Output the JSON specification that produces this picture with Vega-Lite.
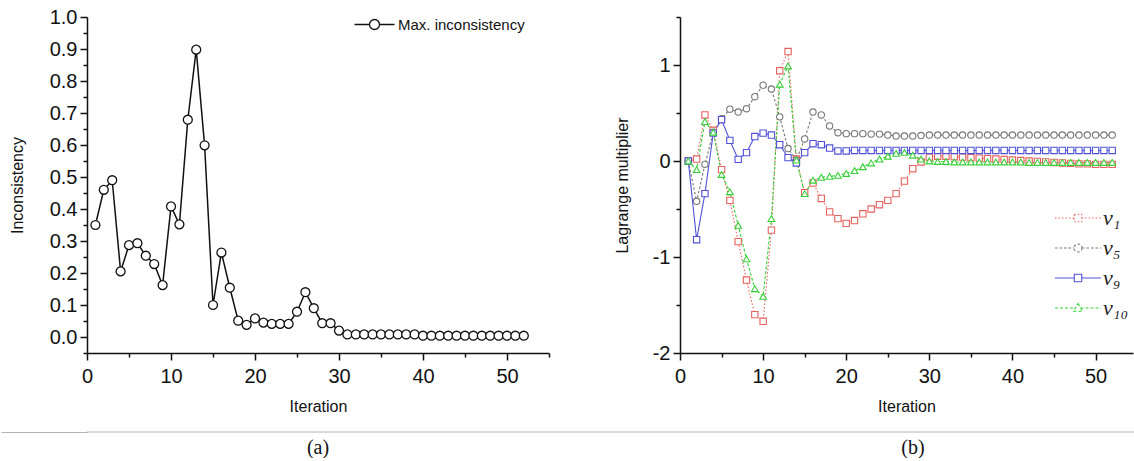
{
  "$schema": "https://vega.github.io/schema/vega-lite/v6.json",
  "background": "white",
  "padding": {"left": 0, "top": 7, "right": 0, "bottom": 0},
  "config": {
    "view": {"stroke": null},
    "font": "Liberation Sans",
    "axis": {"domainColor": "#111111", "domainWidth": 1.5, "tickColor": "#111111", "tickWidth": 1.5, "tickSize": 7, "labelColor": "#111111", "labelFont": "Liberation Sans", "labelFontSize": 20, "titleFont": "Liberation Sans", "titleFontSize": 16, "titleFontWeight": "normal", "titleColor": "#111111", "grid": false, "labelPadding": 3, "labelFlush": false, "labelOverlap": false}
  },
  "resolve": {"scale": {"color": "independent", "strokeDash": "independent"}, "legend": {"color": "independent", "strokeDash": "independent"}},
  "datasets": {
    "a": [
      {"iter": 1, "value": 0.35, "series": "Max. inconsistency"},
      {"iter": 2, "value": 0.46, "series": "Max. inconsistency"},
      {"iter": 3, "value": 0.49, "series": "Max. inconsistency"},
      {"iter": 4, "value": 0.205, "series": "Max. inconsistency"},
      {"iter": 5, "value": 0.287, "series": "Max. inconsistency"},
      {"iter": 6, "value": 0.293, "series": "Max. inconsistency"},
      {"iter": 7, "value": 0.254, "series": "Max. inconsistency"},
      {"iter": 8, "value": 0.228, "series": "Max. inconsistency"},
      {"iter": 9, "value": 0.162, "series": "Max. inconsistency"},
      {"iter": 10, "value": 0.408, "series": "Max. inconsistency"},
      {"iter": 11, "value": 0.352, "series": "Max. inconsistency"},
      {"iter": 12, "value": 0.679, "series": "Max. inconsistency"},
      {"iter": 13, "value": 0.898, "series": "Max. inconsistency"},
      {"iter": 14, "value": 0.599, "series": "Max. inconsistency"},
      {"iter": 15, "value": 0.1, "series": "Max. inconsistency"},
      {"iter": 16, "value": 0.264, "series": "Max. inconsistency"},
      {"iter": 17, "value": 0.154, "series": "Max. inconsistency"},
      {"iter": 18, "value": 0.051, "series": "Max. inconsistency"},
      {"iter": 19, "value": 0.038, "series": "Max. inconsistency"},
      {"iter": 20, "value": 0.058, "series": "Max. inconsistency"},
      {"iter": 21, "value": 0.045, "series": "Max. inconsistency"},
      {"iter": 22, "value": 0.041, "series": "Max. inconsistency"},
      {"iter": 23, "value": 0.041, "series": "Max. inconsistency"},
      {"iter": 24, "value": 0.041, "series": "Max. inconsistency"},
      {"iter": 25, "value": 0.079, "series": "Max. inconsistency"},
      {"iter": 26, "value": 0.14, "series": "Max. inconsistency"},
      {"iter": 27, "value": 0.09, "series": "Max. inconsistency"},
      {"iter": 28, "value": 0.043, "series": "Max. inconsistency"},
      {"iter": 29, "value": 0.043, "series": "Max. inconsistency"},
      {"iter": 30, "value": 0.02, "series": "Max. inconsistency"},
      {"iter": 31, "value": 0.008, "series": "Max. inconsistency"},
      {"iter": 32, "value": 0.008, "series": "Max. inconsistency"},
      {"iter": 33, "value": 0.008, "series": "Max. inconsistency"},
      {"iter": 34, "value": 0.008, "series": "Max. inconsistency"},
      {"iter": 35, "value": 0.008, "series": "Max. inconsistency"},
      {"iter": 36, "value": 0.008, "series": "Max. inconsistency"},
      {"iter": 37, "value": 0.008, "series": "Max. inconsistency"},
      {"iter": 38, "value": 0.008, "series": "Max. inconsistency"},
      {"iter": 39, "value": 0.008, "series": "Max. inconsistency"},
      {"iter": 40, "value": 0.004, "series": "Max. inconsistency"},
      {"iter": 41, "value": 0.004, "series": "Max. inconsistency"},
      {"iter": 42, "value": 0.004, "series": "Max. inconsistency"},
      {"iter": 43, "value": 0.004, "series": "Max. inconsistency"},
      {"iter": 44, "value": 0.004, "series": "Max. inconsistency"},
      {"iter": 45, "value": 0.004, "series": "Max. inconsistency"},
      {"iter": 46, "value": 0.004, "series": "Max. inconsistency"},
      {"iter": 47, "value": 0.004, "series": "Max. inconsistency"},
      {"iter": 48, "value": 0.004, "series": "Max. inconsistency"},
      {"iter": 49, "value": 0.004, "series": "Max. inconsistency"},
      {"iter": 50, "value": 0.004, "series": "Max. inconsistency"},
      {"iter": 51, "value": 0.004, "series": "Max. inconsistency"},
      {"iter": 52, "value": 0.004, "series": "Max. inconsistency"}
    ],
    "b": [
      {"iter": 1, "series": "v1", "value": 0},
      {"iter": 2, "series": "v1", "value": 0.02},
      {"iter": 3, "series": "v1", "value": 0.48},
      {"iter": 4, "series": "v1", "value": 0.32},
      {"iter": 5, "series": "v1", "value": -0.09},
      {"iter": 6, "series": "v1", "value": -0.41},
      {"iter": 7, "series": "v1", "value": -0.84},
      {"iter": 8, "series": "v1", "value": -1.24},
      {"iter": 9, "series": "v1", "value": -1.6},
      {"iter": 10, "series": "v1", "value": -1.67},
      {"iter": 11, "series": "v1", "value": -0.72},
      {"iter": 12, "series": "v1", "value": 0.94},
      {"iter": 13, "series": "v1", "value": 1.14},
      {"iter": 14, "series": "v1", "value": 0.02},
      {"iter": 15, "series": "v1", "value": -0.33},
      {"iter": 16, "series": "v1", "value": -0.23},
      {"iter": 17, "series": "v1", "value": -0.39},
      {"iter": 18, "series": "v1", "value": -0.53},
      {"iter": 19, "series": "v1", "value": -0.6},
      {"iter": 20, "series": "v1", "value": -0.65},
      {"iter": 21, "series": "v1", "value": -0.62},
      {"iter": 22, "series": "v1", "value": -0.55},
      {"iter": 23, "series": "v1", "value": -0.5},
      {"iter": 24, "series": "v1", "value": -0.455},
      {"iter": 25, "series": "v1", "value": -0.41},
      {"iter": 26, "series": "v1", "value": -0.34},
      {"iter": 27, "series": "v1", "value": -0.21},
      {"iter": 28, "series": "v1", "value": -0.08},
      {"iter": 29, "series": "v1", "value": -0.01},
      {"iter": 30, "series": "v1", "value": 0.04},
      {"iter": 31, "series": "v1", "value": 0.05},
      {"iter": 32, "series": "v1", "value": 0.05},
      {"iter": 33, "series": "v1", "value": 0.045},
      {"iter": 34, "series": "v1", "value": 0.04},
      {"iter": 35, "series": "v1", "value": 0.035},
      {"iter": 36, "series": "v1", "value": 0.03},
      {"iter": 37, "series": "v1", "value": 0.025},
      {"iter": 38, "series": "v1", "value": 0.02},
      {"iter": 39, "series": "v1", "value": 0.015},
      {"iter": 40, "series": "v1", "value": 0.01},
      {"iter": 41, "series": "v1", "value": 0.005},
      {"iter": 42, "series": "v1", "value": 0},
      {"iter": 43, "series": "v1", "value": -0.005},
      {"iter": 44, "series": "v1", "value": -0.01},
      {"iter": 45, "series": "v1", "value": -0.015},
      {"iter": 46, "series": "v1", "value": -0.02},
      {"iter": 47, "series": "v1", "value": -0.025},
      {"iter": 48, "series": "v1", "value": -0.03},
      {"iter": 49, "series": "v1", "value": -0.03},
      {"iter": 50, "series": "v1", "value": -0.035},
      {"iter": 51, "series": "v1", "value": -0.035},
      {"iter": 52, "series": "v1", "value": -0.035},
      {"iter": 1, "series": "v5", "value": 0},
      {"iter": 2, "series": "v5", "value": -0.42},
      {"iter": 3, "series": "v5", "value": -0.035},
      {"iter": 4, "series": "v5", "value": 0.3},
      {"iter": 5, "series": "v5", "value": 0.44},
      {"iter": 6, "series": "v5", "value": 0.54},
      {"iter": 7, "series": "v5", "value": 0.51},
      {"iter": 8, "series": "v5", "value": 0.545},
      {"iter": 9, "series": "v5", "value": 0.67},
      {"iter": 10, "series": "v5", "value": 0.79},
      {"iter": 11, "series": "v5", "value": 0.75},
      {"iter": 12, "series": "v5", "value": 0.46},
      {"iter": 13, "series": "v5", "value": 0.13},
      {"iter": 14, "series": "v5", "value": 0.01},
      {"iter": 15, "series": "v5", "value": 0.23},
      {"iter": 16, "series": "v5", "value": 0.51},
      {"iter": 17, "series": "v5", "value": 0.48},
      {"iter": 18, "series": "v5", "value": 0.365},
      {"iter": 19, "series": "v5", "value": 0.295},
      {"iter": 20, "series": "v5", "value": 0.285},
      {"iter": 21, "series": "v5", "value": 0.285},
      {"iter": 22, "series": "v5", "value": 0.285},
      {"iter": 23, "series": "v5", "value": 0.28},
      {"iter": 24, "series": "v5", "value": 0.28},
      {"iter": 25, "series": "v5", "value": 0.27},
      {"iter": 26, "series": "v5", "value": 0.26},
      {"iter": 27, "series": "v5", "value": 0.26},
      {"iter": 28, "series": "v5", "value": 0.26},
      {"iter": 29, "series": "v5", "value": 0.265},
      {"iter": 30, "series": "v5", "value": 0.27},
      {"iter": 31, "series": "v5", "value": 0.27},
      {"iter": 32, "series": "v5", "value": 0.27},
      {"iter": 33, "series": "v5", "value": 0.27},
      {"iter": 34, "series": "v5", "value": 0.27},
      {"iter": 35, "series": "v5", "value": 0.27},
      {"iter": 36, "series": "v5", "value": 0.27},
      {"iter": 37, "series": "v5", "value": 0.27},
      {"iter": 38, "series": "v5", "value": 0.27},
      {"iter": 39, "series": "v5", "value": 0.27},
      {"iter": 40, "series": "v5", "value": 0.27},
      {"iter": 41, "series": "v5", "value": 0.27},
      {"iter": 42, "series": "v5", "value": 0.27},
      {"iter": 43, "series": "v5", "value": 0.27},
      {"iter": 44, "series": "v5", "value": 0.27},
      {"iter": 45, "series": "v5", "value": 0.27},
      {"iter": 46, "series": "v5", "value": 0.27},
      {"iter": 47, "series": "v5", "value": 0.27},
      {"iter": 48, "series": "v5", "value": 0.27},
      {"iter": 49, "series": "v5", "value": 0.27},
      {"iter": 50, "series": "v5", "value": 0.27},
      {"iter": 51, "series": "v5", "value": 0.27},
      {"iter": 52, "series": "v5", "value": 0.27},
      {"iter": 1, "series": "v9", "value": 0},
      {"iter": 2, "series": "v9", "value": -0.82},
      {"iter": 3, "series": "v9", "value": -0.34},
      {"iter": 4, "series": "v9", "value": 0.29},
      {"iter": 5, "series": "v9", "value": 0.43},
      {"iter": 6, "series": "v9", "value": 0.215},
      {"iter": 7, "series": "v9", "value": 0.017},
      {"iter": 8, "series": "v9", "value": 0.087},
      {"iter": 9, "series": "v9", "value": 0.255},
      {"iter": 10, "series": "v9", "value": 0.29},
      {"iter": 11, "series": "v9", "value": 0.27},
      {"iter": 12, "series": "v9", "value": 0.17},
      {"iter": 13, "series": "v9", "value": 0.035},
      {"iter": 14, "series": "v9", "value": -0.02},
      {"iter": 15, "series": "v9", "value": 0.087},
      {"iter": 16, "series": "v9", "value": 0.18},
      {"iter": 17, "series": "v9", "value": 0.17},
      {"iter": 18, "series": "v9", "value": 0.135},
      {"iter": 19, "series": "v9", "value": 0.105},
      {"iter": 20, "series": "v9", "value": 0.105},
      {"iter": 21, "series": "v9", "value": 0.11},
      {"iter": 22, "series": "v9", "value": 0.11},
      {"iter": 23, "series": "v9", "value": 0.11},
      {"iter": 24, "series": "v9", "value": 0.11},
      {"iter": 25, "series": "v9", "value": 0.11},
      {"iter": 26, "series": "v9", "value": 0.11},
      {"iter": 27, "series": "v9", "value": 0.11},
      {"iter": 28, "series": "v9", "value": 0.11},
      {"iter": 29, "series": "v9", "value": 0.11},
      {"iter": 30, "series": "v9", "value": 0.11},
      {"iter": 31, "series": "v9", "value": 0.11},
      {"iter": 32, "series": "v9", "value": 0.11},
      {"iter": 33, "series": "v9", "value": 0.11},
      {"iter": 34, "series": "v9", "value": 0.11},
      {"iter": 35, "series": "v9", "value": 0.11},
      {"iter": 36, "series": "v9", "value": 0.11},
      {"iter": 37, "series": "v9", "value": 0.11},
      {"iter": 38, "series": "v9", "value": 0.11},
      {"iter": 39, "series": "v9", "value": 0.11},
      {"iter": 40, "series": "v9", "value": 0.11},
      {"iter": 41, "series": "v9", "value": 0.11},
      {"iter": 42, "series": "v9", "value": 0.11},
      {"iter": 43, "series": "v9", "value": 0.11},
      {"iter": 44, "series": "v9", "value": 0.11},
      {"iter": 45, "series": "v9", "value": 0.11},
      {"iter": 46, "series": "v9", "value": 0.11},
      {"iter": 47, "series": "v9", "value": 0.11},
      {"iter": 48, "series": "v9", "value": 0.11},
      {"iter": 49, "series": "v9", "value": 0.11},
      {"iter": 50, "series": "v9", "value": 0.11},
      {"iter": 51, "series": "v9", "value": 0.11},
      {"iter": 52, "series": "v9", "value": 0.11},
      {"iter": 1, "series": "v10", "value": 0},
      {"iter": 2, "series": "v10", "value": -0.09},
      {"iter": 3, "series": "v10", "value": 0.41},
      {"iter": 4, "series": "v10", "value": 0.3},
      {"iter": 5, "series": "v10", "value": -0.14},
      {"iter": 6, "series": "v10", "value": -0.32},
      {"iter": 7, "series": "v10", "value": -0.67},
      {"iter": 8, "series": "v10", "value": -1.02},
      {"iter": 9, "series": "v10", "value": -1.33},
      {"iter": 10, "series": "v10", "value": -1.41},
      {"iter": 11, "series": "v10", "value": -0.6},
      {"iter": 12, "series": "v10", "value": 0.8},
      {"iter": 13, "series": "v10", "value": 0.99},
      {"iter": 14, "series": "v10", "value": 0.01},
      {"iter": 15, "series": "v10", "value": -0.34},
      {"iter": 16, "series": "v10", "value": -0.2},
      {"iter": 17, "series": "v10", "value": -0.17},
      {"iter": 18, "series": "v10", "value": -0.16},
      {"iter": 19, "series": "v10", "value": -0.15},
      {"iter": 20, "series": "v10", "value": -0.13},
      {"iter": 21, "series": "v10", "value": -0.1},
      {"iter": 22, "series": "v10", "value": -0.06},
      {"iter": 23, "series": "v10", "value": -0.02},
      {"iter": 24, "series": "v10", "value": 0.02},
      {"iter": 25, "series": "v10", "value": 0.05},
      {"iter": 26, "series": "v10", "value": 0.08},
      {"iter": 27, "series": "v10", "value": 0.09},
      {"iter": 28, "series": "v10", "value": 0.06},
      {"iter": 29, "series": "v10", "value": 0.02},
      {"iter": 30, "series": "v10", "value": 0},
      {"iter": 31, "series": "v10", "value": -0.005},
      {"iter": 32, "series": "v10", "value": -0.005},
      {"iter": 33, "series": "v10", "value": -0.01},
      {"iter": 34, "series": "v10", "value": -0.01},
      {"iter": 35, "series": "v10", "value": -0.01},
      {"iter": 36, "series": "v10", "value": -0.01},
      {"iter": 37, "series": "v10", "value": -0.01},
      {"iter": 38, "series": "v10", "value": -0.01},
      {"iter": 39, "series": "v10", "value": -0.01},
      {"iter": 40, "series": "v10", "value": -0.01},
      {"iter": 41, "series": "v10", "value": -0.01},
      {"iter": 42, "series": "v10", "value": -0.015},
      {"iter": 43, "series": "v10", "value": -0.015},
      {"iter": 44, "series": "v10", "value": -0.015},
      {"iter": 45, "series": "v10", "value": -0.015},
      {"iter": 46, "series": "v10", "value": -0.015},
      {"iter": 47, "series": "v10", "value": -0.015},
      {"iter": 48, "series": "v10", "value": -0.015},
      {"iter": 49, "series": "v10", "value": -0.015},
      {"iter": 50, "series": "v10", "value": -0.015},
      {"iter": 51, "series": "v10", "value": -0.015},
      {"iter": 52, "series": "v10", "value": -0.015}
    ]
  },
  "spacing": 17,
  "columns": 1,
  "concat": [
    {
      "bounds": "flush",
      "spacing": 131,
      "resolve": {"scale": {"color": "independent", "strokeDash": "independent"}, "legend": {"color": "independent", "strokeDash": "independent"}},
      "hconcat": [
        {
          "width": 462,
          "height": 336,
          "data": {"name": "a"},
          "encoding": {
            "x": {"field": "iter", "type": "quantitative", "scale": {"domain": [0, 55], "nice": false, "zero": false},
              "axis": {"title": "Iteration", "titlePadding": 12, "labelPadding": 6, "values": [0, 5, 10, 15, 20, 25, 30, 35, 40, 45, 50, 55],
                "labelExpr": "datum.value % 10 === 0 ? datum.label : ''",
                "tickDash": {"condition": {"test": "datum.value % 10 === 0", "value": [1, 0]}, "value": [4, 20]}}},
            "y": {"field": "value", "type": "quantitative", "scale": {"domain": [-0.05, 1.0], "nice": false, "zero": false},
              "axis": {"title": "Inconsistency", "titlePadding": 24,
                "values": [-0.05, 0, 0.05, 0.1, 0.15, 0.2, 0.25, 0.3, 0.35, 0.4, 0.45, 0.5, 0.55, 0.6, 0.65, 0.7, 0.75, 0.8, 0.85, 0.9, 0.95, 1.0],
                "labelExpr": "abs(datum.value*10 - round(datum.value*10)) < 0.001 && datum.value >= 0 ? format(datum.value, '.1f') : ''",
                "tickDash": {"condition": {"test": "abs(datum.value*10 - round(datum.value*10)) < 0.001", "value": [1, 0]}, "value": [4, 20]}}}
          },
          "layer": [
            {"mark": {"type": "line", "color": "#111111", "strokeWidth": 1.5}},
            {"mark": {"type": "point", "filled": false, "fill": "white", "size": 80, "strokeWidth": 1.3, "opacity": 1},
              "encoding": {
                "color": {"field": "series", "type": "nominal", "scale": {"domain": ["Max. inconsistency"], "range": ["#111111"]},
                  "legend": {"title": null, "orient": "none", "legendX": 280, "legendY": 0, "padding": 0,
                    "symbolType": "M-4,0H-1M1,0H4M1,0A1,1,0,1,1,-1,0A1,1,0,1,1,1,0Z",
                    "symbolSize": 100, "symbolStrokeWidth": 1.3, "symbolFillColor": "white",
                    "labelFont": "Liberation Sans", "labelFontSize": 15, "labelColor": "#111111", "labelOffset": 16}}
              }}
          ]
        },
        {
          "width": 453,
          "height": 336,
          "data": {"name": "b"},
          "encoding": {
            "x": {"field": "iter", "type": "quantitative", "scale": {"domain": [0, 54.5], "nice": false, "zero": false},
              "axis": {"title": "Iteration", "titlePadding": 12, "labelPadding": 6, "values": [0, 5, 10, 15, 20, 25, 30, 35, 40, 45, 50],
                "labelExpr": "datum.value % 10 === 0 ? datum.label : ''",
                "tickDash": {"condition": {"test": "datum.value % 10 === 0", "value": [1, 0]}, "value": [4, 20]}}},
            "y": {"field": "value", "type": "quantitative", "scale": {"domain": [-2, 1.5], "nice": false, "zero": false},
              "axis": {"title": "Lagrange multiplier", "titlePadding": 22,
                "values": [-2, -1.5, -1, -0.5, 0, 0.5, 1, 1.5],
                "labelExpr": "datum.value % 1 === 0 ? '' + datum.value : ''",
                "tickDash": {"condition": {"test": "datum.value % 1 === 0", "value": [1, 0]}, "value": [4, 20]}}},
            "color": {"field": "series", "type": "nominal",
              "scale": {"domain": ["v1", "v5", "v9", "v10"], "range": ["#e6625f", "#777777", "#5050d8", "#35d035"]},
              "legend": {"title": null, "orient": "none", "legendX": 387, "legendY": 190, "padding": 0,
                "symbolType": {"expr": "datum.value === 'v5' ? 'M-4.6,0H-0.8M0.8,0H4.6M0.8,0A0.8,0.8,0,1,1,-0.8,0A0.8,0.8,0,1,1,0.8,0Z' : datum.value === 'v10' ? 'M-4.6,0H-0.5M0.5,0H4.6M0,-0.9L0.9,0.65L-0.9,0.65Z' : 'M-4.6,0H-0.75M0.75,0H4.6M-0.75,-0.75H0.75V0.75H-0.75Z'"},
                "symbolSize": 100, "symbolStrokeWidth": 1.1, "symbolFillColor": "white",
                "labelFont": "Liberation Serif", "labelFontStyle": "italic", "labelFontSize": 22, "labelColor": "#222222",
                "labelOffset": 14, "rowPadding": 8,
                "labelExpr": "datum.label === 'v1' ? 'v₁' : datum.label === 'v5' ? 'v₅' : datum.label === 'v9' ? 'v₉' : 'v₁₀'"}}
          },
          "layer": [
            {"mark": {"type": "line", "strokeWidth": 1.1},
              "encoding": {
                "strokeDash": {"field": "series", "type": "nominal",
                  "scale": {"domain": ["v1", "v5", "v9", "v10"], "range": [[1.5, 2], [2.5, 2], [1, 0], [3, 2]]}}
              }},
            {"transform": [{"filter": "datum.series === 'v1'"}],
              "mark": {"type": "point", "shape": "square", "filled": false, "fill": "white", "size": 40, "strokeWidth": 1.1, "opacity": 1}},
            {"transform": [{"filter": "datum.series === 'v5'"}],
              "mark": {"type": "point", "shape": "circle", "filled": false, "fill": "white", "size": 40, "strokeWidth": 1.1, "opacity": 1}},
            {"transform": [{"filter": "datum.series === 'v9'"}],
              "mark": {"type": "point", "shape": "square", "filled": false, "fill": "white", "size": 40, "strokeWidth": 1.1, "opacity": 1}},
            {"transform": [{"filter": "datum.series === 'v10'"}],
              "mark": {"type": "point", "shape": "triangle-up", "filled": false, "fill": "white", "size": 45, "strokeWidth": 1.1, "opacity": 1}}
          ]
        }
      ]
    },
    {
      "bounds": "flush",
      "spacing": 0,
      "hconcat": [
        {
          "width": 462,
          "height": 24,
          "data": {"values": [{"caption": "(a)"}]},
          "layer": [
            {"mark": {"type": "rule", "color": "#b4b4b4", "strokeWidth": 1.2},
              "encoding": {"y": {"datum": 1, "type": "quantitative", "scale": {"domain": [0, 1]},
                "axis": {"values": [1], "tickSize": 86, "tickColor": "#b4b4b4", "tickWidth": 1.2, "domain": false, "labels": false, "title": null, "grid": false}}}},
            {"mark": {"type": "text", "font": "Liberation Serif", "fontSize": 20, "color": "#111111", "baseline": "middle", "dy": 4},
              "encoding": {"text": {"field": "caption"}}}
          ]
        },
        {
          "width": 586,
          "height": 24,
          "data": {"values": [{"caption": "(b)"}]},
          "layer": [
            {"mark": {"type": "rule", "color": "#b4b4b4", "strokeWidth": 1.2},
              "encoding": {"y": {"datum": 1, "type": "quantitative", "scale": {"domain": [0, 1]}, "axis": null}}},
            {"mark": {"type": "text", "font": "Liberation Serif", "fontSize": 20, "color": "#111111", "baseline": "middle", "dy": 4, "dx": 71},
              "encoding": {"text": {"field": "caption"}}}
          ]
        }
      ]
    }
  ]
}
